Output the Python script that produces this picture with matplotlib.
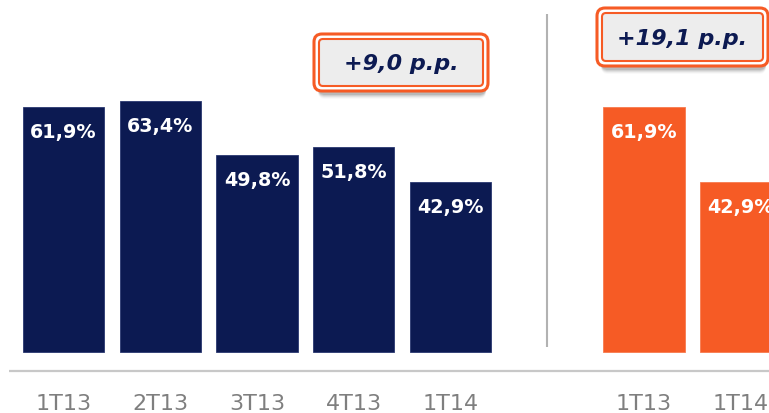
import matplotlib
matplotlib.use("Agg")
import matplotlib.pyplot as plt
from matplotlib.patches import FancyBboxPatch

# ---- data ----
left_labels = ["1T13", "2T13", "3T13", "4T13", "1T14"]
left_values = [61.9, 63.4, 49.8, 51.8, 42.9]
right_labels = ["1T13", "1T14"]
right_values = [61.9, 42.9]
left_positions = [0, 1, 2, 3, 4]
right_positions = [6, 7]
separator_pos = 5
left_delta = "+9,0 p.p."
right_delta = "+19,1 p.p."

NAVY = "#0c1a52"
ORANGE = "#f65b25"
GRAY_TXT = "#7f7f7f"

def fmt(v):
    return f"{v:.1f}".replace(".", ",") + "%"

W, H = 769, 414
fig = plt.figure(figsize=(W / 100, H / 100), dpi=100)
fig.patch.set_facecolor("white")

ax = fig.add_axes([0, 0, 1, 1])
ax.set_xlim(-0.656, 7.292)
ax.set_ylim(-15.4, 89.14)
ax.axis("off")

bw = 0.84
ax.bar(left_positions, left_values, width=bw, color=NAVY, edgecolor="#2a3870", linewidth=0.6)
ax.bar(right_positions, right_values, width=bw, color=ORANGE, edgecolor="#f77a4f", linewidth=0.6)

for xs, vs in ((left_positions, left_values), (right_positions, right_values)):
    for x, v in zip(xs, vs):
        ax.text(x, v - 6.2, fmt(v), ha="center", va="center", color="white",
                fontsize=13.8, fontweight="bold", family="DejaVu Sans")

for xs, labs in ((left_positions, left_labels), (right_positions, right_labels)):
    for x, lab in zip(xs, labs):
        ax.text(x, -13.0, lab, ha="center", va="center", color=GRAY_TXT,
                fontsize=16, family="DejaVu Sans")

# baseline and separator
ax.plot([-0.56, 7.3], [-4.8, -4.8], color="#c8c8c8", lw=1.6, solid_capstyle="butt")
ax.vlines(separator_pos, 1.3, 85.4, color="#b2b2b2", lw=1.5)

# ---- annotation boxes in pixel overlay ----
ov = fig.add_axes([0, 0, 1, 1])
ov.set_xlim(0, W)
ov.set_ylim(H, 0)
ov.axis("off")
ov.patch.set_alpha(0)

def delta_box(x0, y0, x1, y1, text):
    # shadow
    for i, a in enumerate([0.10, 0.08, 0.06, 0.04, 0.025]):
        sh = FancyBboxPatch((x0 + 4, y0 + 4 + i), (x1 - x0) - 6, (y1 - y0),
                            boxstyle="round,pad=0,rounding_size=7",
                            facecolor="#000000", edgecolor="none", alpha=a, zorder=1)
        ov.add_patch(sh)
    outer = FancyBboxPatch((x0, y0), x1 - x0, y1 - y0,
                           boxstyle="round,pad=0,rounding_size=8",
                           facecolor="white", edgecolor=ORANGE, lw=2.2, zorder=2)
    ov.add_patch(outer)
    inner = FancyBboxPatch((x0 + 5, y0 + 5), x1 - x0 - 10, y1 - y0 - 10,
                           boxstyle="round,pad=0,rounding_size=4",
                           facecolor="#ededed", edgecolor=ORANGE, lw=1.5, zorder=3)
    ov.add_patch(inner)
    ov.text((x0 + x1) / 2, (y0 + y1) / 2 + 1, text, ha="center", va="center",
            color=NAVY, fontsize=16, fontweight="bold", fontstyle="italic",
            family="DejaVu Sans", zorder=4)

delta_box(314, 35, 488, 92, left_delta)
delta_box(597, 9, 768, 67, right_delta)

fig.savefig("out.png", dpi=100, facecolor="white")
